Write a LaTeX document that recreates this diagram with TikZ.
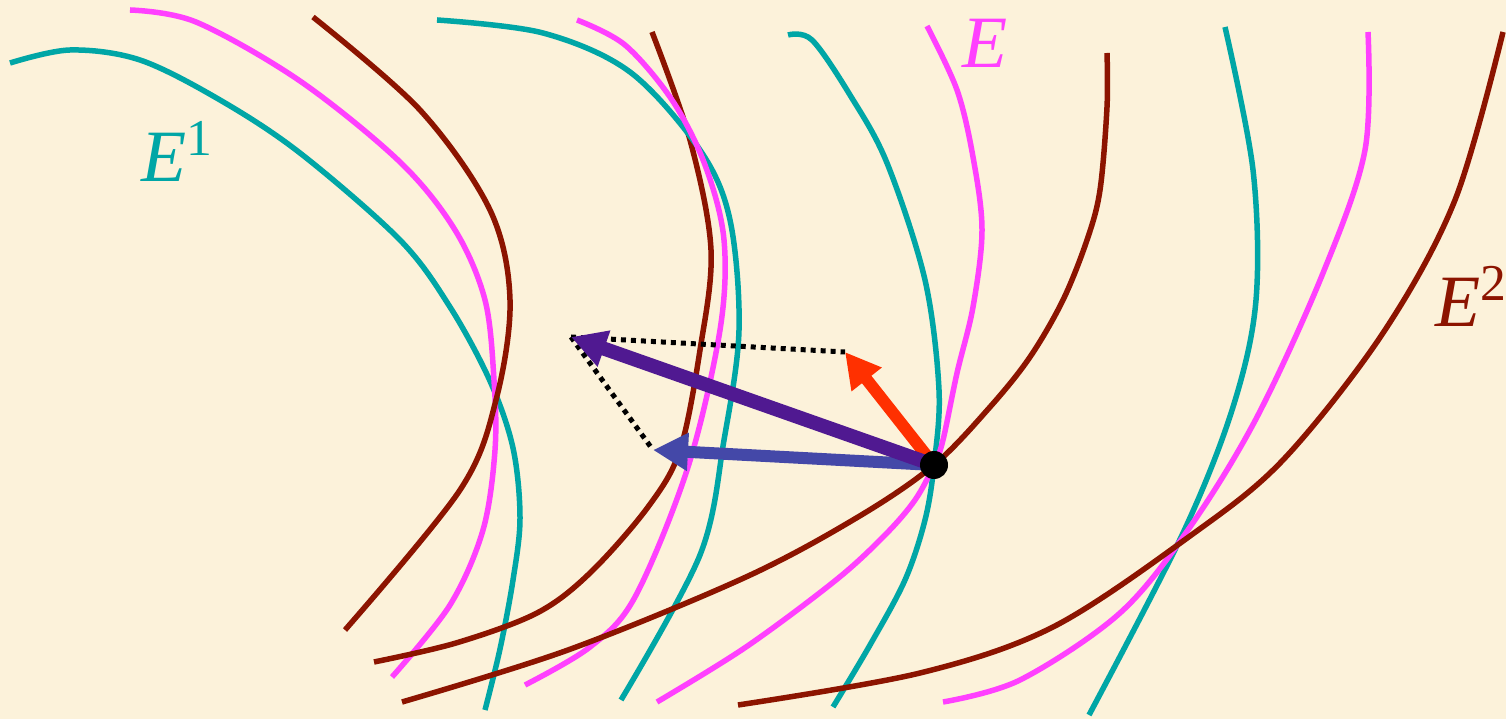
\documentclass[tikz,border=0pt]{standalone}
\usepackage{fontspec}
\setmainfont{Liberation Serif}
\usepackage{tikz}
\usetikzlibrary{arrows.meta}

\definecolor{paper}{RGB}{252,242,218}
\definecolor{eteal}{RGB}{0,166,166}
\definecolor{epink}{RGB}{255,64,255}
\definecolor{ebrown}{RGB}{140,20,0}
\definecolor{epurple}{RGB}{80,25,145}
\definecolor{eblue}{RGB}{68,72,168}
\definecolor{ered}{RGB}{255,48,0}

\begin{document}
\begin{tikzpicture}[x=0.1mm, y=-0.1mm,
  tealcurve/.style={line width=0.55mm, eteal},
  pinkcurve/.style={line width=0.55mm, epink},
  browncurve/.style={line width=0.55mm, ebrown},
  vecarrow/.style={line width=1.3mm, -{Triangle[length=3.5mm, width=3.6mm]}},
  helper/.style={line width=0.5mm, dash pattern=on 0.5mm off 0.5mm},
  lab/.style={anchor=base west, inner sep=0pt, font=\fontsize{21}{25}\selectfont}]

  % Background
  \fill[paper] (0,0) rectangle (1506,719);
  \useasboundingbox (0,0) rectangle (1506,719);

  % Family E^1 (left)
  \draw[tealcurve] plot[smooth, tension=0.55] coordinates {
    (10,63) (70,50) (140,60) (220,100) (300,153) (400,240) (450,307) (490,381) (513,448) (520,518) (513,580) (500,649) (485,710)};
  \draw[pinkcurve] plot[smooth, tension=0.55] coordinates {
    (130,10) (196,22) (300,81) (400,162) (455,230) (485,300) (494,380) (495,450) (483,530) (450,605) (392,677)};
  \draw[browncurve] plot[smooth, tension=0.55] coordinates {
    (313,17) (420,110) (490,210) (510,300) (496,400) (460,490) (345,630)};

  % Middle family
  \draw[browncurve] plot[smooth, tension=0.55] coordinates {
    (652,32) (690,140) (711,250) (700,350) (680,450) (648,507) (590,573) (537,613) (456,643) (374,662)};
  \draw[tealcurve] plot[smooth, tension=0.55] coordinates {
    (437,20) (543,33) (630,72) (700,150) (730,220) (739,330) (724,440) (700,555) (621,700)};
  \draw[pinkcurve] plot[smooth, tension=0.55] coordinates {
    (577,20) (625,45) (672,100) (705,165) (724,240) (720,330) (688,467) (635,597) (590,647) (525,685)};

  % Family through the point
  \draw[tealcurve] plot[smooth, tension=0.55] coordinates {
    (788,35) (812,40) (850,95) (887,163) (925,280) (939,390) (934,465) (925,520) (905,580) (870,645) (833,707)};
  \draw[pinkcurve] plot[smooth, tension=0.55] coordinates {
    (927,26) (957,90) (973,157) (982,230) (973,307) (957,373) (943,440) (934,465) (915,500) (885,535) (836,580) (746,647) (657,702)};
  \draw[browncurve] plot[smooth, tension=0.55] coordinates {
    (402,702) (568,650) (746,577) (858,517) (934,465) (990,407) (1030,357) (1063,300) (1087,240) (1100,190) (1107,107) (1107,53)};

  % Family E^2 (right)
  \draw[tealcurve] plot[smooth, tension=0.55] coordinates {
    (1225,27) (1253,170) (1256,300) (1233,407) (1183,533) (1089,715)};
  \draw[pinkcurve] plot[smooth, tension=0.55] coordinates {
    (1368,32) (1365,150) (1323,273) (1257,417) (1190,527) (1120,613) (1020,680) (943,702)};
  \draw[browncurve] plot[smooth, tension=0.55] coordinates {
    (1503,32) (1455,200) (1383,333) (1283,460) (1190,536) (1053,627) (920,673) (738,705)};

  % Vectors
  \coordinate (base) at (934,465);
  \coordinate (sumtip) at (571,337);
  \coordinate (bluetip) at (653,450);
  \coordinate (redtip) at (845,352);
  \draw[helper] (sumtip) -- (redtip);
  \draw[helper] (sumtip) -- (bluetip);
  \draw[vecarrow, eblue, line width=1.2mm] (base) -- (bluetip);
  \draw[vecarrow, ered, line width=1.2mm] (base) -- (redtip);
  \draw[vecarrow, epurple, line width=1.4mm] (base) -- (sumtip);
  \node[circle, fill=black, inner sep=0pt, minimum size=2.8mm] (p) at (base) {};

  % Labels
  \node[lab, eteal] (e1) at (141,182) {\textit{E}\textsuperscript{1}};
  \node[lab, epink] (e0) at (962,68) {\textit{E}};
  \node[lab, ebrown] (e2) at (1435,327) {\textit{E}\textsuperscript{2}};

\end{tikzpicture}
\end{document}
